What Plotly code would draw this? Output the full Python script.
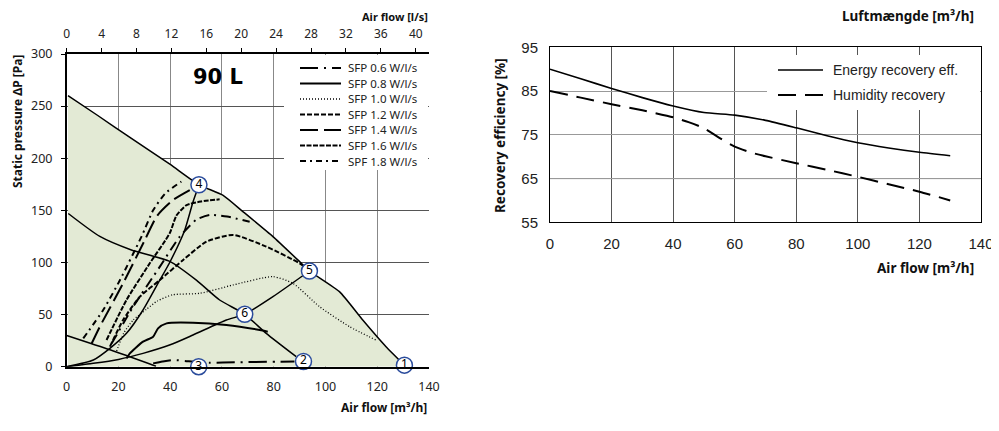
import plotly.graph_objects as go

# ---- left chart: fan curves (x = m3/h, y = Pa) ----
env_x = [0.5, 12, 25, 40, 51.1, 60.3, 68.1, 79.7, 90, 93.8, 105.4, 114.4, 123.4, 130.5]
env_y = [260, 241, 219, 194, 174.5, 164.6, 148.8, 124.8, 100.8, 91.8, 72, 44.8, 19.2, 1.5]

fan_hi_x = [0.6, 12.8, 25, 39.8, 50.1, 59.1, 68.8, 77.1, 88.7]
fan_hi_y = [147, 125, 112, 101, 83, 64, 50.3, 32, 9.6]

fan_lo_x = [0, 17, 34.5]
fan_lo_y = [30, 16, 0.5]

sys_a_x = [0, 10.3, 16.7, 23.1, 29.5, 36, 39.8, 45.6, 48.8, 51.1]
sys_a_y = [0, 6.4, 17.6, 32, 54.4, 83.2, 100, 131, 158, 174]

sys_b_x = [0, 10.3, 20, 29.5, 40, 48.8, 61.7, 68.8, 79.7, 93.8]
sys_b_y = [0, 3.2, 7, 12.8, 21, 30.4, 44.8, 50.3, 67.2, 91.8]

sfp06_x = [33.4, 37, 41.1, 50, 55.3, 65, 81, 88]
sfp06_y = [3.2, 5, 6.4, 4.5, 3.8, 4.2, 4.8, 5]

sfp08_x = [23.1, 24.4, 29.5, 33.4, 35.3, 38.6, 48.8, 61.7, 74.6, 77.7]
sfp08_y = [8, 12.8, 24, 28.8, 36.8, 41.6, 42.2, 40, 35.2, 33.6]

sfp10_x = [19.3, 22, 25.7, 30.8, 35, 41, 51.4, 64.3, 79.7, 87.4, 97.7, 109.3, 119.5]
sfp10_y = [15, 32, 44.8, 55, 63, 69, 70.4, 78.4, 86.4, 80, 57.6, 38.4, 25.6]

sfp12_x = [16.7, 21.8, 28.3, 36, 45, 54, 64.3, 77.1, 90, 93.8]
sfp12_y = [19.2, 44.8, 67.2, 83.2, 102.4, 120, 126.4, 115.2, 99.2, 92]

sfp14_x = [17.4, 25.7, 36, 43.7, 50.1, 55.3, 62, 70.7]
sfp14_y = [22.4, 57.6, 96, 124.8, 141, 145.6, 144, 139]

sfp16_x = [15.4, 23.1, 32.1, 39.8, 42.4, 46.3, 52, 59.1]
sfp16_y = [25.6, 64, 99.2, 128, 145, 155, 158.5, 160.6]

sfp18_x = [9.6, 12.8, 21.8, 30.2, 35, 41.1, 48.8]
sfp18_y = [22, 38.4, 80, 121.6, 145, 160, 171.2]

sfp20_x = [6.4, 14.1, 20.6, 28.9, 33.4, 38, 44.3]
sfp20_y = [27.2, 54.4, 83.2, 124.8, 150, 166, 177.6]

pt_x = [130.5, 91.5, 51, 51.1, 93.8, 68.8]
pt_y = [1.5, 5, 0, 174.5, 91.8, 50.3]
pt_lab = ["1", "2", "3", "4", "5", "6"]

leg_names = ["SFP 0.6 W/l/s", "SFP 0.8 W/l/s", "SFP 1.0 W/l/s", "SFP 1.2 W/l/s",
             "SFP 1.4 W/l/s", "SFP 1.6 W/l/s", "SPF 1.8 W/l/s"]
leg_dash = ["18px,6px,2px,6px", "solid", "1px,2px", "5px,2px",
            "18px,6px", "5px,1.5px", "6px,4px,2px,4px"]

# ---- right chart: recovery efficiency ----
en_x = [0, 10, 20, 30, 40, 50, 60, 70, 80, 90, 100, 110, 120, 130]
en_y = [90, 87.8, 85.6, 83.5, 81.6, 80.1, 79.5, 78.3, 76.6, 74.8, 73.2, 72, 71, 70.2]
hum_x = [0, 10, 20, 30, 40, 45, 50, 55, 60, 65, 70, 80, 90, 100, 110, 120, 130]
hum_y = [85, 83.5, 82, 80.6, 79, 77.9, 76.5, 74.3, 72.3, 71, 70.1, 68.5, 67, 65.4, 63.7, 62, 60]
leg2_names = ["Energy recovery eff.", "Humidity recovery"]
leg2_dash = ["solid", "18px,9px"]

# page body has an 8px margin, so the figure is a bit smaller and positions are offset
OFF = 8
W, H = 991, 423


def px(v):
    return (v - OFF) / W


def py(v):
    return 1 - (v - OFF) / H


fig = go.Figure()

fig.add_trace(go.Scatter(x=env_x, y=env_y, mode="lines", fill="tozeroy", fillcolor="#E3EAD5",
                         line=dict(color="black", width=1.5, shape="spline", smoothing=0.5),
                         xaxis="x", yaxis="y"))

left_lines = [
    (fan_hi_x, fan_hi_y, "solid", 1.5),
    (fan_lo_x, fan_lo_y, "solid", 1.5),
    (sys_a_x, sys_a_y, "solid", 1.5),
    (sys_b_x, sys_b_y, "solid", 1.5),
    (sfp06_x, sfp06_y, leg_dash[0], 2),
    (sfp08_x, sfp08_y, leg_dash[1], 2),
    (sfp10_x, sfp10_y, leg_dash[2], 1.3),
    (sfp12_x, sfp12_y, leg_dash[3], 2),
    (sfp14_x, sfp14_y, "10px,5px,2px,5px", 2),
    (sfp16_x, sfp16_y, leg_dash[5], 2),
    (sfp18_x, sfp18_y, leg_dash[4], 2),
    (sfp20_x, sfp20_y, leg_dash[6], 2),
]
for lx, ly, dash, wd in left_lines:
    fig.add_trace(go.Scatter(x=lx, y=ly, mode="lines",
                             line=dict(color="black", width=wd, dash=dash, shape="spline", smoothing=0.6),
                             xaxis="x", yaxis="y"))

fig.add_trace(go.Scatter(x=pt_x, y=pt_y, mode="markers+text", text=pt_lab, textposition="middle center",
                         textfont=dict(family="Noto Sans", size=12, color="black"),
                         marker=dict(size=16, color="white", line=dict(color="#2B4C9C", width=1.5)),
                         xaxis="x", yaxis="y", cliponaxis=False))

# right chart
fig.add_trace(go.Scatter(x=en_x, y=en_y, mode="lines",
                         line=dict(color="black", width=1.6, shape="spline", smoothing=0.6),
                         xaxis="x3", yaxis="y3"))
fig.add_trace(go.Scatter(x=hum_x, y=hum_y, mode="lines",
                         line=dict(color="black", width=2, dash=leg2_dash[1], shape="spline", smoothing=0.6),
                         xaxis="x3", yaxis="y3"))

# dummy trace so the top l/s axis is drawn
fig.add_trace(go.Scatter(x=[0], y=[0], mode="markers", marker=dict(opacity=0), xaxis="x2", yaxis="y",
                         hoverinfo="skip"))

tick_l = dict(family="Noto Sans", size=12.5, color="#222")
tick_r = dict(family="Liberation Sans", size=15, color="#222")

shapes = []
annos = []

# left legend box + entries
shapes.append(dict(type="rect", xref="paper", yref="paper", x0=px(284), x1=px(428),
                   y0=py(170), y1=py(55), fillcolor="white", line=dict(width=0), layer="above"))
for i, (nm, ds) in enumerate(zip(leg_names, leg_dash)):
    yy = py(68 + i * 15.5)
    shapes.append(dict(type="line", xref="paper", yref="paper", x0=px(300), x1=px(341), y0=yy, y1=yy,
                       line=dict(color="black", width=1.3 if i == 2 else 2, dash=ds), layer="above"))
    annos.append(dict(text=nm, xref="paper", yref="paper", x=px(346), y=yy, xanchor="left", yanchor="middle",
                      showarrow=False, font=dict(family="Noto Sans", size=11.5, color="#222")))

# right legend box + entries
shapes.append(dict(type="rect", xref="paper", yref="paper", x0=px(767), x1=px(980),
                   y0=py(110), y1=py(55), fillcolor="white", line=dict(width=0), layer="above"))
for i, (nm, ds) in enumerate(zip(leg2_names, leg2_dash)):
    yy = py(70 + i * 25)
    shapes.append(dict(type="line", xref="paper", yref="paper", x0=px(778), x1=px(823), y0=yy, y1=yy,
                       line=dict(color="black", width=1.6 if i == 0 else 2, dash=ds), layer="above"))
    annos.append(dict(text=nm, xref="paper", yref="paper", x=px(831), y=yy, xanchor="left", yanchor="middle",
                      showarrow=False, font=dict(family="Liberation Sans", size=14, color="#222")))

# 65 % reference line on the right chart
shapes.append(dict(type="line", xref="x3 domain", yref="y3", x0=0, x1=1, y0=65, y1=65,
                   line=dict(color="black", width=1), layer="below"))

bold_l = dict(family="Noto Sans", size=12, color="#111")
bold_r = dict(family="Noto Sans", size=13.5, color="#111")
annos += [
    dict(text="<b>90 L</b>", x=58.5, y=278, xref="x", yref="y", showarrow=False,
         font=dict(family="DejaVu Sans", size=21, color="black")),
    dict(text="<b>Air flow [l/s]</b>", xref="paper", yref="paper", x=px(429), y=py(8),
         xanchor="right", yanchor="top", showarrow=False, borderpad=0,
         font=dict(family="Noto Sans", size=11, color="#111")),
    dict(text="<b>Air flow [m³/h]</b>", xref="paper", yref="paper", x=px(429), y=py(407),
         xanchor="right", yanchor="middle", showarrow=False, font=bold_l),
    dict(text="<b>Static pressure ΔP [Pa]</b>", xref="paper", yref="paper", x=px(18), y=py(122),
         xanchor="center", yanchor="middle", textangle=-90, showarrow=False, font=bold_l),
    dict(text="<b>Luftmængde [m³/h]</b>", xref="paper", yref="paper", x=px(976), y=py(16),
         xanchor="right", yanchor="middle", showarrow=False, font=bold_r),
    dict(text="<b>Air flow [m³/h]</b>", xref="paper", yref="paper", x=px(976), y=py(268),
         xanchor="right", yanchor="middle", showarrow=False, font=bold_r),
    dict(text="<b>Recovery efficiency [%]</b>", xref="paper", yref="paper", x=px(500), y=py(136),
         xanchor="center", yanchor="middle", textangle=-90, showarrow=False, font=bold_r),
]

fig.update_layout(
    width=W, height=H, margin=dict(l=0, r=0, t=0, b=0),
    paper_bgcolor="white", plot_bgcolor="white", showlegend=False,
    shapes=shapes, annotations=annos,
    xaxis=dict(domain=[px(66.7), px(429)], range=[0, 140], dtick=20, anchor="y", automargin=False,
               showgrid=True, gridcolor="#888", zeroline=False, showline=True, linecolor="black", linewidth=1.5,
               ticks="", ticklabelstandoff=8, tickfont=tick_l),
    xaxis2=dict(overlaying="x", side="top", range=[0, 41.52], dtick=4, anchor="y", automargin=False,
                showgrid=False, zeroline=False, showline=True, linecolor="black", linewidth=1.5,
                ticks="outside", ticklen=4, tickcolor="black", ticklabelstandoff=5,
                tickfont=dict(family="Noto Sans", size=12, color="#222")),
    yaxis=dict(domain=[py(366.7), py(54)], range=[0, 300], dtick=50, anchor="x", automargin=False,
               showgrid=True, gridcolor="#555", zeroline=False, showline=True, linecolor="black", linewidth=1.5,
               ticks="outside", ticklen=4, tickcolor="black", ticklabelstandoff=6, tickfont=tick_l),
    xaxis3=dict(domain=[px(550), px(981)], range=[0, 140], dtick=20, anchor="y3", automargin=False,
                showgrid=True, gridcolor="#555", zeroline=False, showline=True, mirror=True, linecolor="black",
                ticks="", ticklabelstandoff=8, tickfont=tick_r),
    yaxis3=dict(domain=[py(222.3), py(47.3)], range=[55, 95], tick0=55, dtick=10, anchor="x3",
                automargin=False, showgrid=True, gridcolor="#999", zeroline=False, showline=True, mirror=True,
                linecolor="black", ticks="", ticklabelstandoff=8, tickfont=tick_r),
)

fig.write_html("out.html")
